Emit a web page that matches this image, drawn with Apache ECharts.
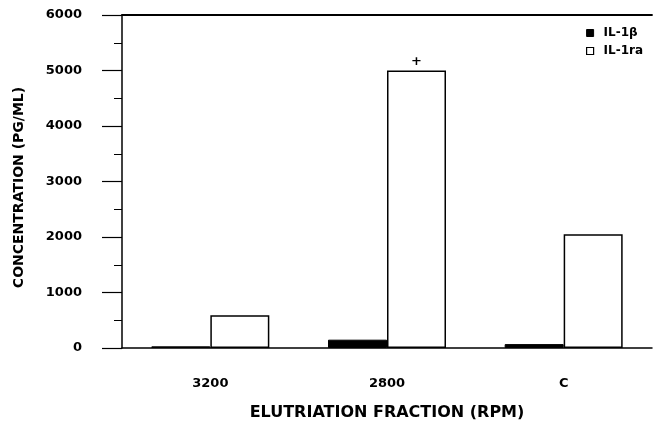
<!DOCTYPE html>
<html>
<head>
<meta charset="utf-8">
<script src="https://cdn.jsdelivr.net/npm/echarts@6/dist/echarts.min.js"></script>
<style>html,body{margin:0;padding:0;background:#fff}#c{width:655px;height:427px}</style>
</head>
<body>
<div id="c"></div>
<script>
const categories = ['3200', '2800', 'C'];
const il1b = [30, 150, 70];
const il1ra = [590, 5000, 2050];
const yTicks = [0, 1000, 2000, 3000, 4000, 5000, 6000];
const marks = ['', '+', ''];

const font = '"DejaVu Sans", "Liberation Sans", sans-serif';
const chart = echarts.init(document.getElementById('c'));
chart.setOption({
  backgroundColor: '#fff',
  animation: false,
  grid: { left: 122, right: 3, top: 15, bottom: 79 },
  legend: {
    orient: 'vertical', left: 581, top: 22, itemWidth: 7, itemHeight: 7, itemGap: 6,
    textStyle: { fontFamily: font, fontWeight: 'bold', fontSize: 12, color: '#000', padding: [0, 0, 0, 5] },
    data: [
      { name: 'IL-1β', icon: 'rect', itemStyle: { color: '#000', borderColor: '#000', borderWidth: 1 } },
      { name: 'IL-1ra', icon: 'rect', itemStyle: { color: '#fff', borderColor: '#000', borderWidth: 1.2 } }
    ]
  },
  xAxis: [{
    type: 'category', data: categories, position: 'bottom',
    name: 'ELUTRIATION FRACTION (RPM)', nameLocation: 'middle', nameGap: 57,
    nameTextStyle: { fontFamily: font, fontWeight: 'bold', fontSize: 16, color: '#000' },
    axisLine: { lineStyle: { color: '#000', width: 1.5 } },
    axisTick: { alignWithLabel: true, length: 11, lineStyle: { color: '#000', width: 1.5 } },
    axisLabel: { margin: 29, fontFamily: font, fontWeight: 'bold', fontSize: 13, color: '#000' }
  }, {
    type: 'category', data: categories, position: 'top',
    axisLine: { show: true, lineStyle: { color: '#000', width: 1.8 } },
    axisTick: { show: false }, axisLabel: { show: false }
  }],
  yAxis: {
    type: 'value', min: 0, max: 6000, interval: 1000,
    name: 'CONCENTRATION (PG/ML)', nameLocation: 'middle', nameGap: 96,
    nameTextStyle: { fontFamily: font, fontWeight: 'bold', fontSize: 14, color: '#000', padding: [0, 12, 0, 0] },
    axisLine: { show: true, lineStyle: { color: '#000', width: 1.5 } },
    axisTick: { show: true, length: 20, lineStyle: { color: '#000', width: 1.2 } },
    minorTick: { show: true, splitNumber: 2, length: 8, lineStyle: { color: '#000', width: 1 } },
    splitLine: { show: false },
    axisLabel: {
      margin: 40, fontFamily: font, fontWeight: 'bold', fontSize: 13, color: '#000',
      formatter: v => yTicks.includes(v) ? String(v) : ''
    }
  },
  series: [{
    name: 'IL-1β', type: 'bar', data: il1b, barWidth: 59, barGap: '0%',
    itemStyle: { color: '#000', borderColor: '#000', borderWidth: 1 }
  }, {
    name: 'IL-1ra', type: 'bar', data: il1ra, barWidth: 59,
    itemStyle: { color: '#fff', borderColor: '#000', borderWidth: 1.5 },
    label: {
      show: true, position: 'top', distance: 2,
      formatter: p => marks[p.dataIndex],
      fontFamily: font, fontWeight: 'bold', fontSize: 13, color: '#000'
    }
  }]
});
</script>
</body>
</html>
